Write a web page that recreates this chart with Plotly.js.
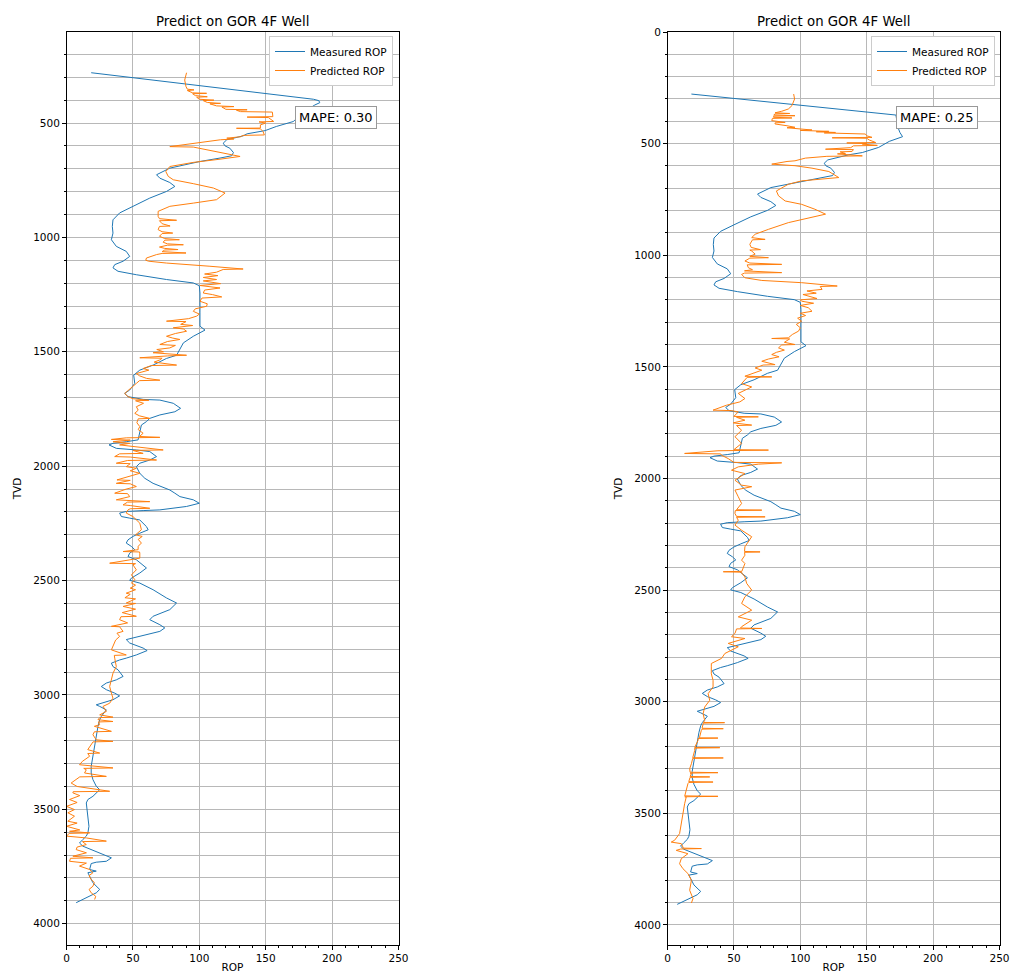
<!DOCTYPE html>
<html><head><meta charset="utf-8">
<script src="https://cdn.plot.ly/plotly-3.0.1.min.js"></script>
<style>html,body{margin:0;padding:0;background:#fff}#chart{width:1010px;height:973px}</style>
</head><body><div id="chart"></div>
<script>
// ---- Measured ROP: top segments differ per panel, body is shared ----
const measTopDepthL = [280, 370, 384, 396, 402, 411, 421, 443, 486, 493, 515, 533, 547];
const measTopROPL   = [18.6, 151, 171, 186, 190, 190.7, 187, 181, 172, 171, 158, 149.6, 136];
const measTopDepthR = [278, 372, 427, 450, 469, 480, 490, 517, 540, 550];
const measTopROPR   = [18, 172, 173.5, 175, 177, 172, 167, 159, 146.7, 136.6];

const measDepth = [556, 573, 588, 600, 610, 629, 643, 653, 668, 697, 726, 741, 760, 777, 799, 828, 864, 893, 923, 952, 981, 1010, 1039, 1061, 1083, 1104, 1119, 1133, 1148, 1163, 1184, 1199, 1211, 1243, 1330, 1388, 1405, 1417, 1432, 1461, 1490, 1500,
  1515, 1529, 1558, 1580, 1602, 1638, 1667, 1682, 1696, 1708, 1711, 1725, 1747, 1762, 1776, 1791, 1805, 1820, 1856, 1885, 1893, 1900, 1907, 1922, 1929, 1936, 1958, 1973, 1987, 2002, 2031, 2053, 2075, 2104, 2118, 2133, 2147, 2162, 2176, 2191, 2194, 2198, 2205, 2220, 2227, 2235, 2264, 2278, 2293, 2307, 2322, 2336, 2351, 2365, 2380, 2395, 2409, 2445, 2467, 2489, 2499, 2511, 2540, 2576, 2598, 2627, 2656, 2671, 2693, 2707, 2722, 2736, 2758, 2773, 2795,
  2806, 2825, 2839, 2847, 2861, 2876, 2890, 2919, 2934, 2948, 2963, 2977, 2992, 3004, 3021, 3036, 3043, 3050, 3065, 3094, 3108, 3137, 3181, 3225, 3268, 3312, 3341, 3370, 3399, 3414, 3443, 3457, 3472, 3501, 3530, 3574, 3603, 3617, 3632, 3647, 3661, 3676, 3697, 3712, 3727, 3731, 3737, 3763, 3770, 3777, 3792, 3821, 3843, 3850, 3865, 3879, 3891, 3908];
const measROP = [133, 120.7, 118, 119.4, 123, 125.7, 124.4, 115.6, 100.5, 77.8, 67.8, 70.3, 77.8, 81.6, 75.3, 62.7, 50, 40, 35, 34.5, 35, 33.8, 37.5, 45, 47.6, 42.6, 36.3, 35, 38.8, 52.6, 75.3, 95.5, 100, 100.5, 100.5, 100.5, 104.3, 100.5, 95.5, 88, 85.4, 84.1,
  82.9, 75.3, 65.2, 55.2, 50.6, 51.4, 47.6, 43.8, 46.3, 57.7, 70.3, 80.4, 85.9, 81.6, 70.3, 62.7, 60.2, 56.4, 55.2, 53.9, 45, 35, 32, 37.5, 52.6, 62.7, 67.8, 62.7, 55.2, 52.6, 55.2, 59, 65.2, 77.8, 81.6, 85.4, 95.5, 100, 90.4, 70.3, 57.7, 45, 40, 41.3, 47.6, 55.2, 60.2, 61.5, 55.2, 50, 46.3, 45, 48.9, 51.4, 47.6, 46.3, 52.6, 60.2, 55.2, 48.9, 47.6, 55.2, 65.2, 75.3, 82.9, 77.8, 65.2, 62.7, 70.3, 74, 70.3, 60.2, 45, 47.6, 57.7,
  60.7, 52.6, 45, 40, 33.8, 35, 38.8, 42.6, 37.5, 30, 26.2, 30, 36.3, 40, 35, 27.5, 22.4, 25, 30, 26.2, 25, 23.7, 22.4, 21.2, 19.9, 18.6, 18.6, 19.9, 22.4, 25, 19.9, 16.1, 14.9, 15.4, 16.1, 16.9, 16.1, 14.9, 12.3, 9.8, 12.3, 18.6, 27.5, 33.8, 30, 22.4, 18.6, 17.4, 22.4, 16.1, 17.4, 19.9, 23.7, 25, 22.4, 17.4, 12.3, 7.3];

// ---- Predicted ROP, left panel (MAPE 0.30) ----
const predDepthL = [280, 312, 341, 352, 355, 358, 368, 370, 372, 380, 385, 387, 396, 400, 402, 410, 414, 416, 425, 428, 430, 440, 442, 444, 450, 452, 472, 474, 476, 493, 495, 500, 508, 522, 523, 525, 537, 552, 554, 560, 566, 570, 573, 581, 595, 603, 605, 624, 646, 658, 672, 690,
  712, 733, 748, 765, 784, 806, 835, 850, 864, 886, 908, 918, 925, 927, 940, 950, 952, 966, 975, 981, 983, 995, 1005, 1010, 1012, 1021, 1028, 1032, 1034, 1042, 1048, 1053, 1055, 1062, 1068, 1070, 1075, 1090, 1100, 1104, 1112, 1126, 1138, 1140, 1152,
  1160, 1167, 1175, 1184, 1190, 1202, 1210, 1221, 1230, 1243, 1250, 1260, 1265, 1279, 1290, 1301, 1312, 1323, 1335, 1344, 1355, 1366, 1368, 1380, 1385, 1395, 1400, 1410, 1420, 1432, 1440, 1446, 1455, 1468, 1472, 1483, 1490, 1500, 1504, 1510, 1515, 1518, 1526, 1528, 1536, 1545, 1558, 1560, 1573, 1580, 1595, 1605, 1616, 1624, 1626, 1638, 1660, 1682, 1696, 1705, 1712, 1714, 1725, 1740, 1755, 1769, 1780, 1791, 1793, 1810, 1827, 1840, 1856, 1870, 1874, 1876, 1883, 1886, 1893, 1900, 1907, 1915, 1929, 1931, 1944, 1946, 1958, 1960, 1973, 1975, 1987, 1989, 2002, 2009, 2020, 2031, 2045, 2060, 2062, 2075, 2077, 2089, 2100, 2118, 2120, 2133, 2147, 2149, 2155, 2157, 2169, 2172, 2184, 2186, 2191, 2205, 2220, 2249, 2278, 2300, 2307, 2320, 2336, 2350, 2365, 2373, 2375, 2380, 2402, 2424, 2426, 2431, 2453, 2475, 2496, 2511, 2520, 2533, 2540, 2555, 2560, 2575, 2580, 2598, 2600, 2613, 2625, 2640, 2656, 2658, 2671, 2685, 2700, 2702, 2722, 2730, 2744, 2760, 2787,
  2803, 2825, 2827, 2839, 2876, 2905, 2934, 2963, 2992, 3014, 3036, 3050, 3072, 3087, 3097, 3099, 3108, 3116, 3118, 3130, 3137, 3159, 3161, 3174, 3196, 3203, 3205, 3217, 3239, 3254, 3256, 3268, 3290, 3305, 3319, 3321, 3327, 3341, 3356, 3358, 3370, 3385, 3400, 3421, 3423, 3428, 3440, 3457, 3470, 3487, 3501, 3515, 3530, 3552, 3560, 3574, 3590, 3596, 3603, 3605, 3617, 3625, 3639, 3641, 3654, 3665, 3676, 3690, 3705, 3712, 3714, 3727, 3735, 3748, 3763, 3777, 3790, 3807, 3820, 3836, 3850, 3865, 3880, 3894];
const predROPL = [90.4, 89, 90, 91, 96, 91, 95, 105.5, 95, 97, 106, 98, 100, 111, 103, 106, 116, 108, 113, 126, 117, 120, 136, 128, 131, 155, 155.4, 136, 152, 156, 145, 150, 146, 146, 128, 146, 148, 149, 133, 131, 120.7, 126, 116, 105.5, 88, 77.8, 95.5, 113, 130.7, 115.6, 95.5, 77.8,
  74.8, 76.6, 80.4, 95.5, 110.6, 119.4, 113, 95.5, 77.8, 69, 69, 70, 82.9, 70, 72, 78, 70, 69, 72, 80, 72, 70, 74, 85, 74, 72.8, 76, 88, 76, 70, 74, 84, 74, 72, 90, 72, 67.8, 60.2, 59.7, 62, 75.3, 108, 133, 118, 113,
  104, 114, 103, 113, 103, 116, 100.5, 115.6, 104, 103, 110, 116.9, 102, 100.5, 106, 105.5, 97, 95.5, 100, 98, 92, 75.3, 90, 86, 95, 80.4, 88, 90.4, 82, 75.3, 80, 85.4, 76, 70.3, 82, 77.8, 68, 73, 65.2, 82.9, 90.4, 76, 55.2, 72, 70, 66, 82.9, 64, 57.7, 62, 52.6, 55, 60.2, 70.3, 55, 52.6, 48, 43.8, 46.3, 50, 62, 52, 58, 52.6, 54, 51.4, 55, 62.7, 54, 53, 55.2, 54, 57.7, 55, 70.3, 45, 33.8, 48, 35, 47.6, 40, 52, 72.8, 50, 57.7, 40, 36.3, 48, 67.8, 46, 37.5, 48, 45, 52.6, 48, 55.2, 46, 38, 48, 37.5, 48, 52.6, 45, 36.3, 46, 47.6, 37.5, 48, 62.7, 46, 42.6, 48, 62.7, 48, 46.3, 45, 50, 55.2, 56.4, 52, 57, 54, 56.4, 54, 53.9, 42.6, 55, 55.2, 55.2, 32.5, 52, 50, 52.6, 48.9, 51.4, 48.9, 52, 48, 52, 45, 48, 44, 52, 45, 52, 42.6, 52, 42, 52.6, 41, 40, 46, 33.8, 40, 42.6, 38, 40, 37, 35,
  33.8, 45, 36, 36.3, 37.5, 35, 33.8, 32.5, 33.8, 35, 32.5, 27.5, 30, 25, 35, 25, 23.7, 35, 24, 25, 21, 33.8, 21, 19.9, 22.4, 35, 20, 18.6, 16, 25, 16, 17.4, 12, 9.8, 35, 13, 14.9, 13.6, 30, 10, 7.3, 3.5, 8, 32.5, 5, 4.8, 10, 2.3, 8, 0, 6, 1, 6, 1, 8, 0, 10, 2.3, 17.4, 2, 0, 15, 30, 12, 14.9, 8, 7.3, 15, 4.8, 19.9, 3, 2.3, 15, 9.8, 17.4, 19.9, 17, 18.6, 21, 19.9, 17, 18.6, 22, 21.2];

// ---- Predicted ROP, right panel (MAPE 0.25) ----
const predDepthR = [278, 300, 330, 345, 355, 362, 365, 367, 372, 375, 377, 382, 385, 387, 397, 405, 407, 412, 420, 427, 429, 436, 439, 441, 445, 447, 450, 452, 455, 457, 465, 472, 474, 476, 484, 495, 497, 500, 502, 508, 510, 518, 525, 527, 535, 537, 544, 546, 555, 557, 560, 565, 577, 580, 592, 599, 610, 625, 652, 659, 667, 682,
  712, 734, 757, 772, 794, 816, 831, 854, 884, 906, 921, 929, 931, 951, 965, 975, 977, 981, 995, 1005, 1011, 1013, 1026, 1035, 1041, 1043, 1056, 1065, 1070, 1078, 1080, 1086, 1101, 1113, 1123, 1138, 1140, 1153,
  1160, 1170, 1176, 1185, 1194, 1200, 1206, 1215, 1225, 1235, 1251, 1260, 1270, 1282, 1296, 1310, 1325, 1340, 1355, 1370, 1373, 1375, 1390, 1400, 1402, 1415, 1425, 1435, 1445, 1455, 1465, 1475, 1490, 1492, 1505, 1515, 1530, 1542, 1545, 1547, 1575, 1590, 1619, 1642, 1657, 1672, 1694, 1696, 1702, 1722, 1724, 1726, 1739, 1751, 1761, 1763, 1784, 1813, 1843, 1871, 1873, 1875, 1876, 1888, 1890, 1896, 1911, 1928, 1930, 1936, 1948, 1963, 1978, 2008, 2030, 2037, 2052, 2082, 2112, 2140, 2142, 2144, 2157, 2170, 2172, 2174, 2187, 2209, 2232, 2261, 2306, 2327, 2329, 2331, 2344, 2366, 2381, 2416, 2418, 2420, 2423, 2441, 2470, 2500, 2530, 2560, 2590, 2620, 2635, 2664, 2670, 2672, 2674, 2694, 2709, 2717, 2739, 2754, 2784, 2806, 2829, 2844,
  2875, 2904, 2934, 2964, 2994, 3024, 3054, 3084, 3093, 3094, 3096, 3119, 3121, 3123, 3128, 3158, 3162, 3163, 3165, 3173, 3203, 3205, 3206, 3208, 3218, 3248, 3251, 3252, 3254, 3278, 3300, 3316, 3318, 3320, 3322, 3335, 3337, 3339, 3345, 3358, 3360, 3362, 3367, 3397, 3412, 3422, 3424, 3426, 3427, 3457, 3502, 3546, 3591, 3621, 3629, 3636, 3656, 3658, 3660, 3666, 3681, 3703, 3726, 3748, 3770, 3800, 3845, 3882, 3902];
const predROPR = [95, 95.7, 93.7, 91, 86, 81, 92, 81, 80, 96, 80, 79.8, 93.7, 79, 78.5, 88.6, 81, 81, 90, 96, 90, 104, 108.8, 100, 121.5, 112, 126.5, 118, 135, 149, 150, 154, 124, 150, 152, 156.8, 135, 150, 146.7, 158, 140, 138, 119, 140, 139, 130, 134, 128, 146.7, 120, 115, 103.8, 96, 90, 78.5, 96, 108.8, 121.5, 129, 113.9, 101, 91,
  82, 83.6, 88.6, 101, 111, 119, 108.8, 91, 76, 66, 63.4, 73.5, 64, 62, 63, 70, 62, 63.4, 66, 62, 76, 62, 58.3, 62, 86, 60, 60.9, 64, 58, 86, 58, 55.8, 58.3, 71, 101, 127.8, 115, 116.4,
  105, 112, 102, 108, 112.6, 100, 101, 110, 100, 106, 108.8, 100, 104, 98, 101, 97, 100, 98.7, 94, 91, 78.5, 92, 88, 96, 86, 83.6, 88, 82, 78.5, 84, 76, 71, 81, 72, 66, 71, 64, 58.3, 78.5, 60, 55.8, 63.4, 53.3, 58.3, 54.5, 44.4, 34.3, 48, 53.3, 50, 68.4, 52, 58.3, 49.5, 63.4, 52, 55.8, 50.8, 55.8, 50, 76, 45, 38, 12.9, 40, 40.7, 45.7, 50, 86, 68.4, 53.3, 48.2, 58.3, 50.8, 55.8, 63.4, 50.8, 53.3, 55.8, 52, 71, 51, 50.8, 52, 73.5, 52, 53.3, 50.8, 55.8, 63.4, 58.3, 58, 69.7, 58, 58.3, 55.8, 58.3, 56, 42, 56, 55.8, 58.3, 59.6, 63.4, 58.3, 55.8, 63.4, 53.3, 63.4, 55.8, 55, 71, 52, 50.8, 48.2, 58.3, 45.7, 53.3, 43.2, 40.7, 33, 33,
  33, 34.3, 34.3, 30.6, 31.8, 28, 26.8, 28, 27, 43, 27, 26, 42, 26, 25.5, 24.2, 24, 38, 23, 23, 20.5, 20.5, 39.4, 20.5, 20.5, 19.2, 19, 42, 19, 18, 16.7, 17, 38, 17, 18, 17, 31.8, 17, 16.7, 16, 34.3, 16, 15.4, 14.1, 12.9, 13, 38, 13, 14.1, 12.9, 11.6, 10.4, 9.1, 5.3, 2.8, 10.4, 12, 25.5, 10, 6.6, 15.4, 10.4, 9.1, 11.6, 15.4, 18, 16.7, 19.2, 18];

const seriesNames = ['Measured ROP', 'Predicted ROP'];
const panelTitle = 'Predict on GOR 4F Well';
const mapeTexts = ['MAPE: 0.30', 'MAPE: 0.25'];
const xTicks = [0, 50, 100, 150, 200, 250];

const BLUE = '#1f77b4', ORANGE = '#ff7f0e';
const FONT = 'DejaVu Sans, sans-serif';

function trace(x, y, name, color, xa, ya, leg) {
  return {type: 'scatter', mode: 'lines', x, y, name, xaxis: xa, yaxis: ya, legend: leg,
    showlegend: true, line: {color, width: 1}, hoverinfo: 'skip'};
}

const data = [
  trace(measTopROPL.concat(measROP), measTopDepthL.concat(measDepth), seriesNames[0], BLUE, 'x', 'y', 'legend'),
  trace(predROPL, predDepthL, seriesNames[1], ORANGE, 'x', 'y', 'legend'),
  trace(measTopROPR.concat(measROP), measTopDepthR.concat(measDepth), seriesNames[0], BLUE, 'x2', 'y2', 'legend2'),
  trace(predROPR, predDepthR, seriesNames[1], ORANGE, 'x2', 'y2', 'legend2')
];

const W = 1010, H = 973;
const yDom = [1 - 945 / H, 1 - 32 / H];
function xaxis(dom, anchor) {
  return {domain: dom, anchor, range: [0, 250], tickvals: xTicks, ticktext: xTicks.map(String),
    ticks: 'outside', ticklen: 3.5, tickwidth: 1, tickcolor: '#000',
    showline: true, linecolor: '#000', linewidth: 1, mirror: true,
    showgrid: true, gridcolor: '#b8b8b8', gridwidth: 1, zeroline: false,
    minor: {dtick: 10, tick0: 0, ticks: 'outside', ticklen: 2, tickcolor: '#000', showgrid: false},
    tickfont: {size: 10.5, color: '#000', family: FONT},
    title: {text: 'ROP', font: {size: 10.5, color: '#000', family: FONT}, standoff: 2},
    fixedrange: true};
}
function yaxis(dom, anchor, range) {
  return {domain: dom, anchor, range, tick0: 0, dtick: 500,
    ticks: 'outside', ticklen: 3.5, tickwidth: 1, tickcolor: '#000',
    showline: true, linecolor: '#000', linewidth: 1, mirror: true,
    showgrid: true, gridcolor: '#b8b8b8', gridwidth: 1, zeroline: false,
    minor: {dtick: 100, tick0: 0, ticks: 'outside', ticklen: 2, tickcolor: '#000', showgrid: true, gridcolor: '#b8b8b8', gridwidth: 1},
    tickfont: {size: 10.5, color: '#000', family: FONT},
    title: {text: 'TVD', font: {size: 10.5, color: '#000', family: FONT}, standoff: 9},
    fixedrange: true};
}
function legend(xr) {
  return {x: xr / W, y: 1 - 36 / H, xanchor: 'right', yanchor: 'top', bgcolor: '#fff',
    bordercolor: '#cccccc', borderwidth: 1, font: {size: 10.5, color: '#000', family: FONT},
    tracegroupgap: 0, itemwidth: 30};
}
const annotations = [];
[['x', 'y', 0], ['x2', 'y2', 1]].forEach(([xa, ya, i]) => {
  annotations.push({xref: xa + ' domain', yref: ya + ' domain', x: 0.5, y: 1, yanchor: 'bottom', yshift: 1,
    text: panelTitle, showarrow: false, font: {size: 13.3, color: '#000', family: FONT}});
  annotations.push({xref: xa + ' domain', yref: ya + ' domain', x: 0.688, y: 0.906, xanchor: 'left', yanchor: 'middle',
    text: mapeTexts[i], showarrow: false, font: {size: 13, color: '#000', family: FONT},
    bgcolor: '#fff', bordercolor: '#999', borderwidth: 1, borderpad: 3});
});

const layout = {
  width: W, height: H, margin: {l: 0, r: 0, t: 0, b: 0},
  paper_bgcolor: '#fff', plot_bgcolor: '#fff',
  font: {family: FONT, color: '#000'},
  xaxis: xaxis([66.5 / W, 398.5 / W], 'y'),
  yaxis: yaxis(yDom, 'x', [4093, 102]),
  xaxis2: xaxis([667.5 / W, 999.5 / W], 'y2'),
  yaxis2: yaxis(yDom, 'x2', [4090, 0]),
  legend: legend(393),
  legend2: legend(995),
  annotations,
  showlegend: true
};
Plotly.newPlot('chart', data, layout, {staticPlot: true, displayModeBar: false});
</script></body></html>
